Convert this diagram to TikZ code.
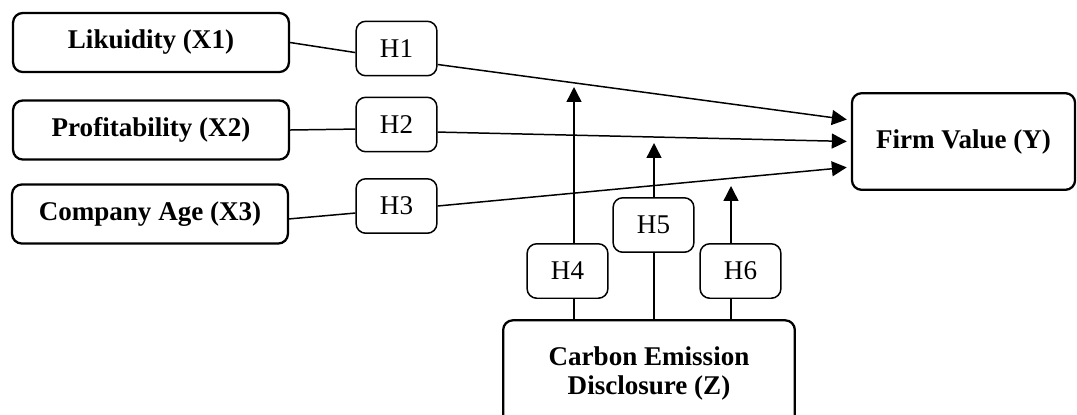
\documentclass[tikz,border=0pt]{standalone}
\usepackage{fontspec}
\setmainfont{Liberation Serif}
\usetikzlibrary{calc, positioning, arrows.meta}

\tikzset{
  varbox/.style={draw, line width=1.3pt, rounded corners=5.5pt, minimum width=157pt,
    minimum height=33.6pt, inner sep=0pt, align=center,
    font=\fontsize{15.4}{16.5}\selectfont\bfseries},
  hypbox/.style={draw, line width=0.85pt, rounded corners=5.5pt, minimum width=46pt,
    minimum height=31pt, inner sep=0pt, fill=white,
    font=\fontsize{15.4}{16.5}\selectfont},
  link/.style={line width=0.85pt},
  arr/.style={link, -{Triangle[length=8.5pt, width=8.5pt]}},
}

\begin{document}
\begin{tikzpicture}[x=0.02cm, y=-0.02cm]
  \clip (0,0) rectangle (1077,414);
  % --- predictors ---
  \node[varbox] (x1) at (151,42.5) {Likuidity (X1)};
  \node[varbox] (x2) at (151,130) {Profitability (X2)};
  \node[varbox] (x3) at (150,214) {Company Age (X3)};
  % --- outcome and moderator ---
  \node[varbox, minimum width=127pt, minimum height=55pt] (fv) at (963.5,141.5) {Firm Value (Y)};
  \node[varbox, minimum width=166pt, minimum height=60pt] (ced) at (649,373) {Carbon Emission\\Disclosure (Z)};
  % --- hypotheses ---
  \node[hypbox] (h1) at (396.5,48.5) {H1};
  \node[hypbox] (h2) at (396.5,124.5) {H2};
  \node[hypbox] (h3) at (396.5,206) {H3};
  \node[hypbox] (h4) at (567.5,271) {H4};
  \node[hypbox] (h5) at (653.5,225) {H5};
  \node[hypbox] (h6) at (740.5,271) {H6};

  % direct effects
  \draw[link] (x1.east) -- ([yshift=-2.3pt]h1.west);
  \draw[arr, shorten >=2.3pt] ([yshift=-9.1pt]h1.east) -- ([yshift=12.2pt]fv.west);
  \draw[link] (x2.east) -- ([yshift=-2.6pt]h2.west);
  \draw[arr, shorten >=2.3pt] ([yshift=-4.3pt]h2.east) -- (fv.west);
  \draw[link] ([yshift=-2.8pt]x3.east) -- ([yshift=-4pt]h3.west);
  \draw[arr, shorten >=2.3pt] (h3.east) -- ([yshift=-14.5pt]fv.west);

  % moderation
  \coordinate (t4) at (574,87);
  \coordinate (t5) at (654,143);
  \coordinate (t6) at (731,186);
  \draw[link] (ced.north -| t4) -- (h4.south -| t4);
  \draw[arr] (h4.north -| t4) -- (t4);
  \draw[link] (ced.north -| t5) -- (h5.south -| t5);
  \draw[arr] (h5.north -| t5) -- (t5);
  \draw[link] (ced.north -| t6) -- (h6.south -| t6);
  \draw[arr] (h6.north -| t6) -- (t6);
\end{tikzpicture}
\end{document}
